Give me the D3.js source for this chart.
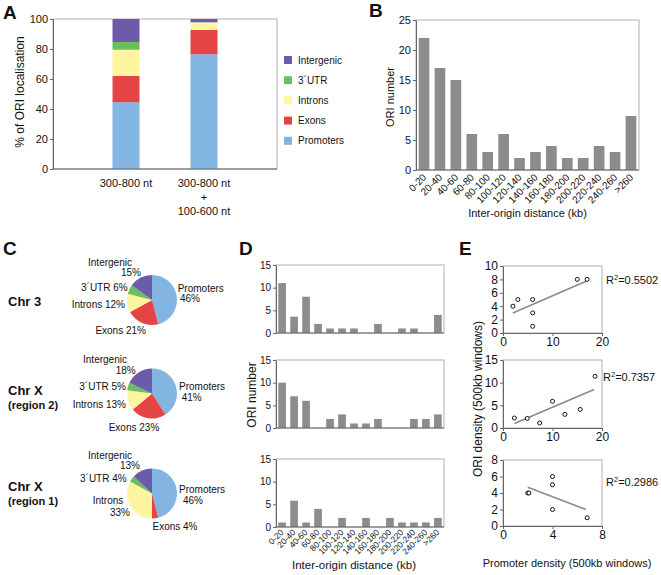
<!DOCTYPE html>
<html><head><meta charset="utf-8">
<script src="https://cdn.jsdelivr.net/npm/d3@7"></script>
<style>body{margin:0;background:#fff}svg{display:block}</style>
</head><body><svg id="c" width="661" height="575"></svg>
<script>
// ---------- DATA ----------
const locCategories = ["Promoters", "Exons", "Introns", "3´UTR", "Intergenic"];
const locColors = ["#82b5e2", "#e54444", "#fdf5a0", "#6cbd5e", "#6b5ba8"];
// Panel A
const aGroups = ["300-800 nt", "300-800 nt + 100-600 nt"];
const aGroupLines = [["300-800 nt"], ["300-800 nt", "+", "100-600 nt"]];
const aPromoters = [44.5, 76.5];
const aExons = [17.5, 16.2];
const aIntrons = [17.5, 5.1];
const aUTR = [5.2, 0];
const aIntergenic = [15.3, 2.2];
const aTicks = [0, 20, 40, 60, 80, 100];
// Panel B
const distCategories = ["0-20", "20-40", "40-60", "60-80", "80-100", "100-120", "120-140", "140-160", "160-180", "180-200", "200-220", "220-240", "240-260", ">260"];
const bCounts = [22, 17, 15, 6, 3, 6, 2, 3, 4, 2, 2, 4, 3, 9];
const bTicks = [0, 5, 10, 15, 20, 25];
// Panel C
const pieTitles = ["Chr 3", "Chr X", "Chr X"];
const pieSubtitles = ["", "(region 2)", "(region 1)"];
const pieChr3 = [46, 21, 12, 6, 15];
const pieChrXr2 = [41, 23, 13, 5, 18];
const pieChrXr1 = [46, 4, 33, 4, 13];
// Panel D
const dChr3 = [11, 3.6, 8, 2, 1, 1, 1, 0, 2, 0, 1, 1, 0, 4];
const dChrXr2 = [10, 7, 6, 0, 2, 3, 1, 1, 2, 0, 0, 2, 2, 3];
const dChrXr1 = [1, 5.8, 1, 4, 0, 2, 0, 2, 0, 2, 1, 1, 1, 2];
const dTicks = [0, 5, 10, 15];
// Panel E
const eChr3X = [2, 3, 6, 6, 6, 15, 17];
const eChr3Y = [4, 5, 5, 3, 1, 8, 8];
const eChr3Fit = [[2, 3.0], [17, 7.8]];
const eXr2X = [2.3, 4.9, 7.4, 10, 12.5, 15.6, 18.6];
const eXr2Y = [2.2, 2.1, 1.1, 5.9, 3.0, 4.1, 11.4];
const eXr2Fit = [[2.3, 0.97], [18.4, 8.5]];
const eXr1X = [2, 2.1, 4, 4, 4, 6.8];
const eXr1Y = [4, 4, 6, 5, 2, 1];
const eXr1Fit = [[2, 4.7], [6.7, 2.0]];
const eR2 = ["0.5502", "0.7357", "0.2986"];
const eXTicks = [[0, 10, 20], [0, 10, 20], [0, 4, 8]];
const eYTicks = [[0, 2, 4, 6, 8, 10], [0, 5, 10, 15], [0, 2, 4, 6, 8]];

// ---------- DRAW ----------
const FONT = "'Liberation Sans', Arial, sans-serif";
const AX = "#666", FR = "#b0b0b0", BAR = "#8c8c8c", TXT = "#111";
const svg = d3.select("#c");

function txt(x, y, s, size, opts = {}) {
  const t = svg.append("text").attr("x", x).attr("y", y).text(s)
    .attr("font-family", FONT).attr("font-size", size).attr("fill", TXT)
    .attr("text-anchor", opts.anchor || "start");
  if (opts.bold) t.attr("font-weight", "bold");
  if (opts.rotate) t.attr("transform", `rotate(${opts.rotate},${x},${y})`);
  return t;
}
function frame(x0, x1, y0, y1) {
  svg.append("rect").attr("x", x0).attr("y", y0).attr("width", x1 - x0).attr("height", y1 - y0)
    .attr("fill", "none").attr("stroke", FR).attr("stroke-width", 1);
}
function styleAxis(g, size) {
  g.attr("font-family", FONT).attr("font-size", size);
  g.select(".domain").attr("stroke", AX);
  g.selectAll(".tick line").attr("stroke", AX);
  g.selectAll(".tick text").attr("fill", TXT);
}
function yAxis(scale, x, ticks, size) {
  const g = svg.append("g").attr("transform", `translate(${x},0)`)
    .call(d3.axisLeft(scale).tickValues(ticks).tickSize(3).tickSizeOuter(0).tickPadding(2));
  styleAxis(g, size);
  return g;
}
function bottomLine(x0, x1, y) {
  svg.append("line").attr("x1", x0).attr("x2", x1).attr("y1", y).attr("y2", y).attr("stroke", AX);
}
function letter(x, y, s) { txt(x, y, s, 19, { bold: true }); }

// ===== Panel A =====
letter(3, 19, "A");
{
  const L = 53, R = 277, T = 19, B = 169;
  const x = d3.scaleBand().domain(aGroups).range([L, R]).paddingInner(0.654).paddingOuter(0.763);
  const y = d3.scaleLinear().domain([0, 100]).range([B, T]);
  frame(L, R, T, B);
  const rows = aGroups.map((g, i) => ({
    group: g, "Promoters": aPromoters[i], "Exons": aExons[i], "Introns": aIntrons[i],
    "3´UTR": aUTR[i], "Intergenic": aIntergenic[i]
  }));
  const series = d3.stack().keys(locCategories)(rows);
  series.forEach((s, k) => {
    svg.append("g").selectAll("rect").data(s).join("rect")
      .attr("x", d => x(d.data.group)).attr("width", x.bandwidth())
      .attr("y", d => y(d[1])).attr("height", d => y(d[0]) - y(d[1]))
      .attr("fill", locColors[k]);
  });
  yAxis(y, L, aTicks, 11);
  bottomLine(L, R, B);
  aGroups.forEach((g, i) => {
    aGroupLines[i].forEach((line, j) => {
      txt(x(g) + x.bandwidth() / 2, 187 + j * 14, line, 11, { anchor: "middle" });
    });
  });
  txt(24, (T + B) / 2 - 2, "% of ORI localisation", 12, { anchor: "middle", rotate: -90 });
  const legendOrder = locCategories.map((c, i) => i).reverse();
  legendOrder.forEach((k, j) => {
    const cy = 60 + j * 20.2;
    svg.append("rect").attr("x", 284).attr("y", cy - 4).attr("width", 8).attr("height", 8).attr("fill", locColors[k]);
    txt(298, cy + 3.5, locCategories[k], 10);
  });
}

// ===== Panel B =====
letter(369, 17, "B");
{
  const L = 416, R = 639, T = 20, B = 170;
  const x = d3.scaleBand().domain(distCategories).range([L, R]).paddingInner(0.33).paddingOuter(0.17);
  const y = d3.scaleLinear().domain([0, 25]).range([B, T]);
  frame(L, R, T, B);
  svg.append("g").selectAll("rect").data(bCounts).join("rect")
    .attr("x", (d, i) => x(distCategories[i])).attr("width", x.bandwidth())
    .attr("y", d => y(d)).attr("height", d => B - y(d)).attr("fill", BAR);
  yAxis(y, L, bTicks, 11);
  bottomLine(L, R, B);
  distCategories.forEach(c => {
    const cx = x(c) + x.bandwidth() / 2 + 3, cy = B + 8;
    txt(cx, cy, c, 10, { anchor: "end", rotate: -45 });
  });
  txt((L + R) / 2, 217, "Inter-origin distance (kb)", 11, { anchor: "middle" });
  txt(394, (T + B) / 2 + 2, "ORI number", 11, { anchor: "middle", rotate: -90 });
}

// ===== Panel C =====
letter(3, 255, "C");
{
  const pies = [pieChr3, pieChrXr2, pieChrXr1];
  const centers = [[152, 300], [152, 393.5], [152, 493.5]];
  const titleY = [[306], [395, 409], [491, 505]];
  const r = 25;
  const pie = d3.pie().sort(null).value(d => d);
  const arc = d3.arc().innerRadius(0).outerRadius(r);
  const layouts = [
    { inter: [-42, -34.5, "middle"], interPct: [-11, -24.5, "end"], utr: [-24.3, -9.5, "end"], introns: [-27, 7.5, "end"], exons: [-31.3, 33.5, "middle"], prom: [25.7, -8.5, "start"], promPct: [28, 1.5, "start"] },
    { inter: [-47, -30.5, "middle"], interPct: [-16.3, -19.8, "end"], utr: [-26, -3.8, "end"], introns: [-26, 14.2, "end"], exons: [-18, 37.2, "middle"], prom: [27, -3.3, "start"], promPct: [29.7, 7.2, "start"] },
    { inter: [-42, -34.8, "middle"], interPct: [-12, -24.3, "end"], utr: [-25.3, -11.8, "end"], intronsName: [-44, 10.2, "middle"], intronsPct: [-32, 22.7, "middle"], exons: [23, 36.2, "middle"], prom: [27, -0.8, "start"], promPct: [31, 10.2, "start"] }
  ];
  pies.forEach((vals, p) => {
    const [cx, cy] = centers[p];
    const g = svg.append("g").attr("transform", `translate(${cx},${cy})`);
    g.selectAll("path").data(pie(vals)).join("path").attr("d", arc).attr("fill", (d, i) => locColors[i]);
    const lay = layouts[p];
    const put = (key, s) => { const [dx, dy, a] = lay[key]; txt(cx + dx, cy + dy, s, 10, { anchor: a }); };
    put("inter", locCategories[4]);
    put("interPct", vals[4] + "%");
    put("utr", locCategories[3] + " " + vals[3] + "%");
    if (lay.introns) put("introns", locCategories[2] + " " + vals[2] + "%");
    else { put("intronsName", locCategories[2]); put("intronsPct", vals[2] + "%"); }
    put("exons", locCategories[1] + " " + vals[1] + "%");
    put("prom", locCategories[0]);
    put("promPct", vals[0] + "%");
    txt(8, titleY[p][0], pieTitles[p], 13, { bold: true });
    if (pieSubtitles[p]) txt(8, titleY[p][1], pieSubtitles[p], 11, { bold: true });
  });
}

// ===== Panel D =====
letter(239, 255, "D");
{
  const L = 276, R = 444, H = 68;
  const tops = [265, 360, 459];
  const sets = [dChr3, dChrXr2, dChrXr1];
  const x = d3.scaleBand().domain(distCategories).range([L, R]).paddingInner(0.36).paddingOuter(0.19);
  sets.forEach((vals, p) => {
    const T = tops[p], B = T + H;
    const y = d3.scaleLinear().domain([0, 15]).range([B, T]);
    frame(L, R, T, B);
    svg.append("g").selectAll("rect").data(vals).join("rect")
      .attr("x", (d, i) => x(distCategories[i])).attr("width", x.bandwidth())
      .attr("y", d => y(d)).attr("height", d => B - y(d)).attr("fill", BAR);
    yAxis(y, L, dTicks, 10);
    bottomLine(L, R, B);
    if (p === 2) {
      distCategories.forEach(c => {
        txt(x(c) + x.bandwidth() / 2 + 2, B + 6, c, 8.5, { anchor: "end", rotate: -45 });
      });
    }
  });
  txt(354, 569, "Inter-origin distance (kb)", 11.5, { anchor: "middle" });
  txt(256, 395, "ORI number", 12, { anchor: "middle", rotate: -90 });
}

// ===== Panel E =====
letter(459, 255, "E");
{
  const L = 503, R = 602;
  const boxes = [[266, 333], [360, 428], [460, 526]];
  const xs = [eChr3X, eXr2X, eXr1X], ys = [eChr3Y, eXr2Y, eXr1Y], fits = [eChr3Fit, eXr2Fit, eXr1Fit];
  const xMax = [20, 20, 8], yMax = [10, 15, 8];
  const r2Pos = [[606, 284], [603, 381], [606, 486]];
  boxes.forEach(([T, B], p) => {
    const x = d3.scaleLinear().domain([0, xMax[p]]).range([L, R]);
    const y = d3.scaleLinear().domain([0, yMax[p]]).range([B, T]);
    frame(L, R, T, B);
    const gx = svg.append("g").attr("transform", `translate(0,${B})`)
      .call(d3.axisBottom(x).tickValues(eXTicks[p]).tickSize(3).tickSizeOuter(0).tickPadding(1));
    styleAxis(gx, 12);
    yAxis(y, L, eYTicks[p], 12);
    svg.append("path").datum(fits[p])
      .attr("d", d3.line().x(d => x(d[0])).y(d => y(d[1])))
      .attr("stroke", "#8a8a8a").attr("stroke-width", 1.6).attr("fill", "none");
    svg.append("g").selectAll("circle").data(xs[p]).join("circle")
      .attr("cx", d => x(d)).attr("cy", (d, i) => y(ys[p][i])).attr("r", 2)
      .attr("fill", "#fff").attr("stroke", "#111").attr("stroke-width", 1);
    const t = txt(r2Pos[p][0], r2Pos[p][1], "R", 11);
    t.append("tspan").attr("font-size", 7.5).attr("dy", -4).text("2");
    t.append("tspan").attr("dy", 4).text("=" + eR2[p]);
  });
  txt(567, 567, "Promoter density (500kb windows)", 11, { anchor: "middle" });
  txt(482, 399, "ORI density (500kb windows)", 12, { anchor: "middle", rotate: -90 });
}
</script></body></html>
